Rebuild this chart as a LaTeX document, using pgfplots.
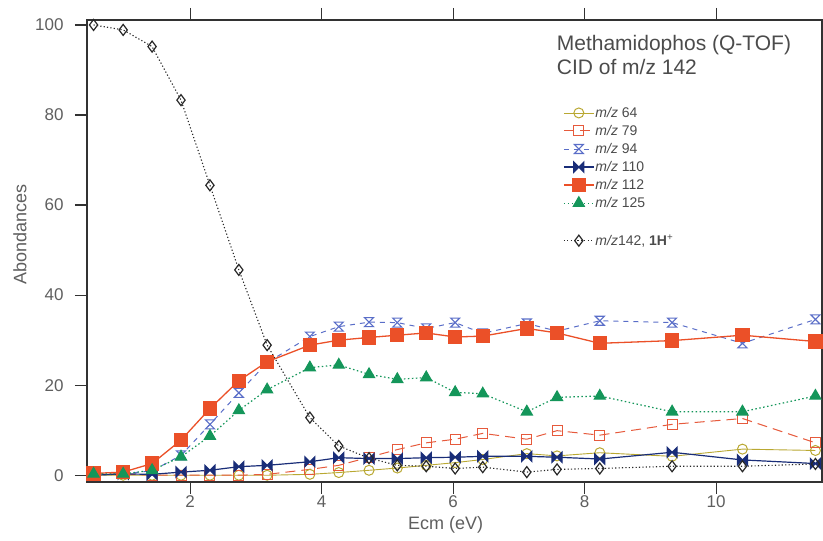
\documentclass[border=0pt]{standalone}
\usepackage{fontspec}
\setmainfont{Liberation Sans}
\usepackage{pgfplots}
\usepackage{pgfplotstable}
\pgfplotsset{compat=1.18}

\definecolor{c64}{RGB}{185,168,50}
\definecolor{c79}{RGB}{230,90,60}
\definecolor{c94}{RGB}{90,110,200}
\definecolor{c110}{RGB}{25,45,120}
\definecolor{c112}{RGB}{235,80,40}
\definecolor{c125}{RGB}{20,150,90}
\definecolor{c142}{RGB}{40,40,40}
\definecolor{axc}{RGB}{50,50,50}
\definecolor{tlc}{RGB}{95,95,95}
\definecolor{titc}{RGB}{75,75,75}

\pgfdeclareplotmark{hourglass}{%
 \pgfpathmoveto{\pgfqpoint{-\pgfplotmarksize}{\pgfplotmarksize}}%
 \pgfpathlineto{\pgfqpoint{\pgfplotmarksize}{\pgfplotmarksize}}%
 \pgfpathlineto{\pgfqpoint{-\pgfplotmarksize}{-\pgfplotmarksize}}%
 \pgfpathlineto{\pgfqpoint{\pgfplotmarksize}{-\pgfplotmarksize}}%
 \pgfpathclose\pgfusepathqstroke}
\pgfdeclareplotmark{bowtie*}{%
 \pgfpathmoveto{\pgfqpoint{-\pgfplotmarksize}{\pgfplotmarksize}}%
 \pgfpathlineto{\pgfqpoint{\pgfplotmarksize}{-\pgfplotmarksize}}%
 \pgfpathlineto{\pgfqpoint{\pgfplotmarksize}{\pgfplotmarksize}}%
 \pgfpathlineto{\pgfqpoint{-\pgfplotmarksize}{-\pgfplotmarksize}}%
 \pgfpathclose\pgfusepathqfillstroke}

\pgfplotstableread{
x     a64  a79  a94  a110 a112 a125 a142
0.53  0.0  0.3  0.0  0.0  0.4  0.3  100.0
0.98  0.0  0.3  0.3  0.3  0.7  0.3  98.9
1.42  0.0  0.0  1.0  0.2  2.6  1.1  95.2
1.86  0.0  0.0  4.4  0.7  7.8  4.1  83.3
2.30  0.0  0.0  11.3 1.1  14.8 8.7  64.4
2.74  0.0  0.0  18.3 1.9  21.0 14.4 45.6
3.17  0.0  0.2  25.0 2.2  25.2 19.0 28.9
3.82  0.2  1.3  30.8 3.0  28.9 23.9 12.8
4.26  0.6  2.2  33.0 3.9  30.0 24.5 6.5
4.72  1.1  4.0  34.0 3.7  30.6 22.4 3.8
5.15  1.6  5.7  33.9 3.7  31.1 21.3 2.2
5.59  2.2  7.2  32.6 3.9  31.6 21.7 2.0
6.03  2.8  8.0  33.9 4.0  30.7 18.4 1.5
6.45  3.5  9.3  31.5 4.2  30.9 18.1 1.8
7.12  4.8  8.0  33.7 4.2  32.6 14.1 0.7
7.58  4.3  9.9  32.0 4.0  31.6 17.3 1.3
8.23  5.0  8.9  34.3 3.6  29.3 17.6 1.5
9.33  4.2  11.3 33.9 5.1  29.9 14.1 2.0
10.40 5.8  12.6 29.3 3.4  31.1 14.1 2.0
11.51 5.5  7.2  34.6 2.6  29.7 17.6 2.5
}\datatable

\begin{document}
\begin{tikzpicture}
\begin{axis}[
  scale only axis, width=735pt, height=462pt,
  xmin=0.43, xmax=11.61, ymin=-1.5, ymax=101.1,
  xtick={2,4,6,8,10}, ytick={0,20,40,60,80,100},
  tick align=outside, xtick pos=both, xticklabel pos=lower, ytick pos=left,
  major tick length=12pt,
  axis line style={color=axc, line width=1.2pt},
  every tick/.style={color=axc, line width=1.2pt},
  tick label style={font=\fontsize{17}{19}\selectfont, color=tlc},
  yticklabel style={xshift=-8pt},
  xticklabel style={yshift=2pt},
  /pgf/number format/assume math mode=true,
  xlabel={Ecm (eV)}, ylabel={Abondances},
  label style={font=\fontsize{18}{20}\selectfont, color=tlc},
  xlabel style={at={(axis description cs:0.488,0)}, anchor=center, yshift=-43pt},
  ylabel style={at={(axis description cs:0,0.535)}, anchor=center, yshift=67pt},
  clip=false,
  legend style={at={(rel axis cs:0.6476,0.814)}, anchor=north west, draw=none, fill=none,
    font=\fontsize{14}{16}\selectfont, text=titc, row sep=4.4pt, inner sep=0pt,
    nodes={inner sep=1pt}},
  legend cell align=left,
  legend image code/.code={\draw[mark repeat=2,mark phase=2] plot coordinates {(0pt,0pt) (15pt,0pt) (30pt,0pt)};},
]
\addplot[color=c64, line width=0.9pt, mark=o, mark size=5pt, mark options={solid, line width=1pt}] table[x=x,y=a64] {\datatable};
\addlegendentry{\textit{m/z} 64}
\addplot[color=c79, line width=1pt, dash pattern=on 10pt off 6pt, mark=square, mark size=5pt, mark options={solid, line width=1pt}] table[x=x,y=a79] {\datatable};
\addlegendentry{\textit{m/z} 79}
\addplot[color=c94, line width=1pt, dash pattern=on 5pt off 5pt, mark=hourglass, mark size=4.5pt, mark options={solid, line width=1.1pt}] table[x=x,y=a94] {\datatable};
\addlegendentry{\textit{m/z} 94}
\addplot[color=c110, line width=1.2pt, mark=bowtie*, mark size=5pt, mark options={solid, fill=c110}] table[x=x,y=a110] {\datatable};
\addlegendentry{\textit{m/z} 110}
\addplot[color=c112, line width=1.3pt, mark=square*, mark size=6.5pt, mark options={solid, fill=c112}] table[x=x,y=a112] {\datatable};
\addlegendentry{\textit{m/z} 112}
\addplot[color=c125, line width=1.2pt, dash pattern=on 1.5pt off 2.5pt, mark=triangle*, mark size=6.3pt, mark options={solid, fill=c125}] table[x=x,y=a125] {\datatable};
\addlegendentry{\textit{m/z} 125}
\addlegendimage{empty legend}
\addlegendentry{\strut}
\addplot[color=c142, line width=1.1pt, dash pattern=on 1.2pt off 2.2pt, mark=diamond, mark size=5.5pt, mark options={solid, line width=1.2pt, fill=white}] table[x=x,y=a142] {\datatable};
\addlegendentry{\textit{m/z}142, \textbf{1H}\textsuperscript{+}}
\node[anchor=north west, inner sep=0pt, align=left, font=\fontsize{21}{24}\selectfont, text=titc] at (rel axis cs:0.639,0.9675) {Methamidophos (Q-TOF)\\CID of m/z 142};
\end{axis}
\pgfresetboundingbox
\path (current axis.south west) ++(-87pt,-59pt) rectangle ++(823pt,541pt);
\end{tikzpicture}
\end{document}
